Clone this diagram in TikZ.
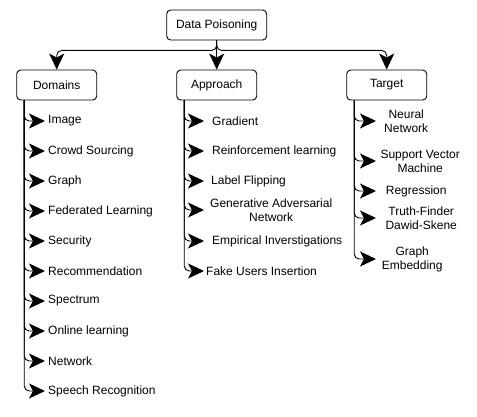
\documentclass[tikz,border=0pt]{standalone}
\usepackage{fontspec}
\setmainfont{Liberation Sans}
\usetikzlibrary{arrows.meta}
\begin{document}
\begin{tikzpicture}[x=1pt,y=-1pt,
  box/.style={draw, rounded corners=4pt, minimum width=80pt, minimum height=30pt, inner sep=0pt, line width=0.9pt, font=\fontsize{12}{14}\selectfont},
  item/.style={anchor=west, inner ysep=0pt, inner xsep=3pt, font=\fontsize{12}{14}\selectfont, align=left},
  titem/.style={anchor=west, inner ysep=0pt, inner xsep=0pt, font=\fontsize{12}{14}\selectfont, align=center},
  arr/.style={line width=0.9pt, rounded corners=5pt, -{Stealth[length=16pt,width=15pt,inset=4pt]}},
]
\useasboundingbox[fill=white] (0,0) rectangle (477,417);
% main boxes
\node[box, minimum width=100pt] (top) at (216.7,25) {Data Poisoning};
\node[box] (dom) at (56.7,85) {Domains};
\node[box] (app) at (216.7,85) {Approach};
\node[box] (tar) at (386.7,85) {Target};
\draw[arr] (top.south) -- ++(0,10) -| (dom.north);
\draw[arr] (top.south) -- ++(0,10) -| (tar.north);
\draw[arr] (top.south) -- (app.north);
% domains
\node[item] (d1) at (45,121) {Image};
\node[item] (d2) at (45,151) {Crowd Sourcing};
\node[item] (d3) at (45,181) {Graph};
\node[item] (d4) at (45,211) {Federated Learning};
\node[item] (d5) at (45,241) {Security};
\node[item] (d6) at (45,271) {Recommendation};
\node[item] (d7) at (45,301) {Spectrum};
\node[item] (d8) at (45,331) {Online learning};
\node[item] (d9) at (45,361) {Network};
\node[item] (d10) at (45,391) {Speech Recognition};
\foreach \n in {d1,d2,d3,d4,d5,d6,d7,d8,d9,d10}
  \draw[arr] ([xshift=8pt]dom.south west) |- (\n.west);
% approach
\node[item, inner xsep=8pt] (a1) at (204,121) {Gradient};
\node[item, inner xsep=8pt] (a2) at (204,151) {Reinforcement learning};
\node[item, inner xsep=7pt] (a3) at (204,181) {Label Flipping};
\node[item, inner xsep=6pt, align=center] (a4) at (204,210) {Generative Adversarial\\Network};
\node[item, inner xsep=8pt] (a5) at (204,241) {Empirical Inverstigations};
\node[item, inner xsep=2pt] (a6) at (204,271) {Fake Users Insertion};
\foreach \n in {a1,a2,a3,a4,a5,a6}
  \draw[arr] ([xshift=8pt]app.south west) |- (\n.west);
% target
\node[titem, minimum width=60pt] (t1) at (376,121) {Neural\\Network};
\node[titem, minimum width=88pt] (t2) at (376,161) {Support Vector\\Machine};
\node[titem, minimum width=80pt] (t3) at (376,191) {Regression};
\node[titem, minimum width=90pt] (t4) at (376,218) {Truth-Finder\\Dawid-Skene};
\node[titem, minimum width=72pt] (t5) at (376,259) {Graph\\Embedding};
\foreach \n in {t1,t2,t3,t4,t5}
  \draw[arr] ([xshift=8pt]tar.south west) |- (\n.west);
\end{tikzpicture}
\end{document}
